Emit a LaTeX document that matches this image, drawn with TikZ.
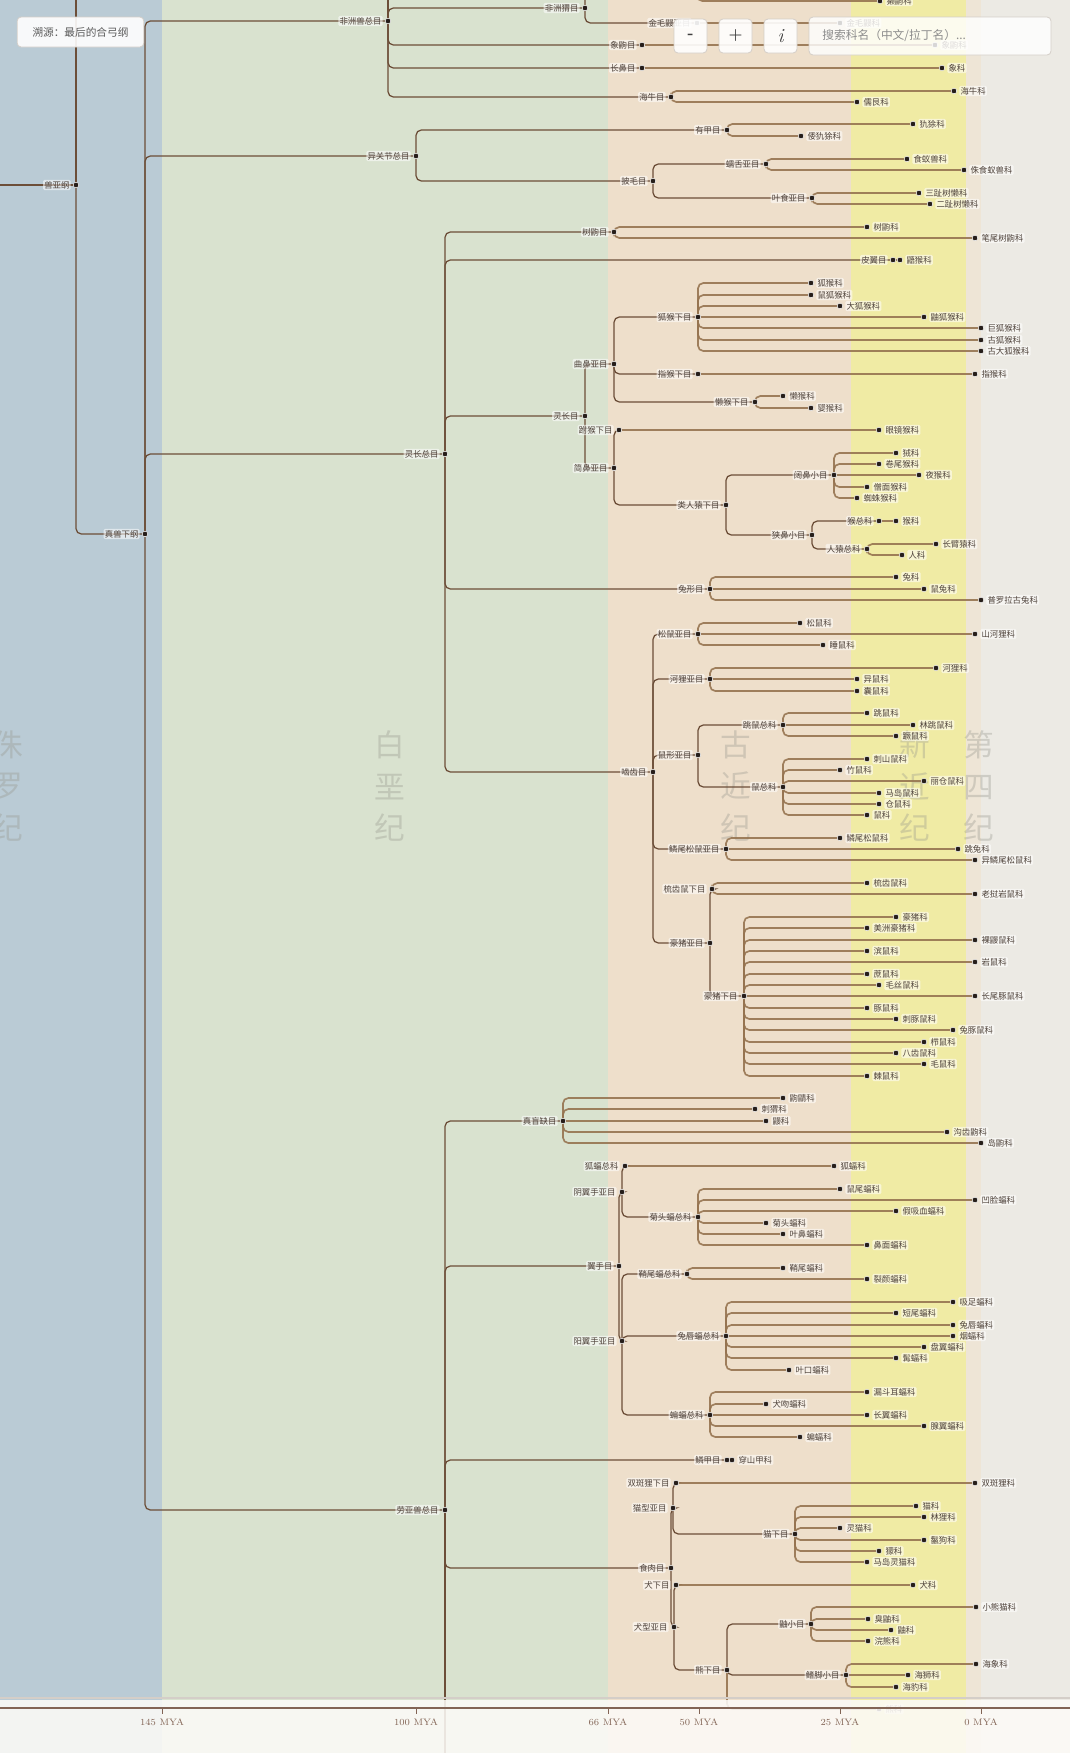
\documentclass[tikz,border=0pt]{standalone}
\usepackage{fontspec}
\usepackage{tikz}
\usepackage{xcolor}
\newfontfamily\cjk{Noto Sans CJK SC}
\pgfdeclarelayer{bands}
\pgfdeclarelayer{edges}
\pgfdeclarelayer{front}
\pgfsetlayers{bands,edges,main,front}

\definecolor{jurcol}{RGB}{186,203,213}
\definecolor{crecol}{RGB}{217,226,207}
\definecolor{palcol}{RGB}{238,223,203}
\definecolor{neocol}{RGB}{240,235,164}
\definecolor{quacol}{RGB}{238,229,214}
\definecolor{nowcol}{RGB}{236,234,228}
\definecolor{branchcol}{RGB}{108,78,56}
\definecolor{twigcol}{RGB}{150,116,80}
\definecolor{dotcol}{RGB}{38,30,26}
\definecolor{labcol}{RGB}{78,66,58}
\definecolor{eracol}{RGB}{150,150,140}
\definecolor{axiscol}{RGB}{130,100,85}
\definecolor{uiline}{RGB}{212,206,200}

\begin{document}
\begin{tikzpicture}[x=0.75pt,y=0.75pt,yscale=-1,xscale=1,
  label distance=1.5pt,
  dot/.style={circle,fill=dotcol,draw=white,line width=0.35pt,inner sep=0pt,minimum size=4.2pt},
  lab/.style={font=\cjk\fontsize{6.3}{7}\selectfont,text=labcol,fill=white,fill opacity=0.55,text opacity=1,inner sep=0.9pt,rounded corners=1pt},
  clade/.style={dot,label={[lab]left:#1}},
  leaf/.style={dot,label={[lab]right:#1}},
  branch/.style={draw=branchcol,line width=0.95pt,rounded corners=4pt},
  twig/.style={draw=twigcol,line width=1.25pt,rounded corners=4pt,draw opacity=0.9},
  era/.style={font=\cjk\fontsize{23}{31}\selectfont,text=eracol,text opacity=0.35,align=center},
  uibox/.style={draw=uiline,fill=white,fill opacity=0.9,text opacity=1,rounded corners=3pt,line width=0.6pt},
  ticklab/.style={font=\fontsize{7}{8}\selectfont,text=axiscol}
]
\useasboundingbox (0,0) rectangle (1070,1753);

%Shape: era bands
\begin{pgfonlayer}{bands}
\fill[jurcol] (0,0) rectangle (162,1753);
\fill[crecol] (162,0) rectangle (608,1753);
\fill[palcol] (608,0) rectangle (851,1753);
\fill[neocol] (851,0) rectangle (966,1753);
\fill[quacol] (966,0) rectangle (981,1753);
\fill[nowcol] (981,0) rectangle (1070,1753);
% Text Node
\node[era] (jura) at (8,786) {侏\\罗\\纪};
\node[era] (creta) at (390,786) {白\\垩\\纪};
\node[era] (paleo) at (736,786) {古\\近\\纪};
\node[era] (neo) at (915,786) {新\\近\\纪};
\node[era] (quat) at (979,786) {第\\四\\纪};
\end{pgfonlayer}

%Shape: off-screen ends
\coordinate (rootin) at (-10,185);
\coordinate (thertop) at (76,-30);
\coordinate (afrotop) at (388,-30);
\coordinate (tenrec) at (697,-25);
\coordinate (lauralow) at (445,1775);

% upper ranks
\node[clade=兽亚纲] (therian) at (76,185) {};
\node[clade=真兽下纲] (euther) at (145,534) {};
\node[clade=非洲兽总目] (afro) at (388,21) {};
\node[clade=异关节总目] (xenar) at (416,156) {};
\node[clade=灵长总目] (euarch) at (445,454) {};
\node[clade=劳亚兽总目] (laura) at (445,1510) {};

% Afrotheria
\node[clade=非洲猬目] (afsor) at (585,8) {};
\node[leaf=獭鼩科] (otter) at (880,1) {};
\node[clade=金毛鼹亚目] (chryso) at (697,23) {};
\node[leaf=金毛鼹科] (goldmole) at (840,23) {};
\node[clade=象鼩目] (macros) at (642,45) {};
\node[leaf=象鼩科] (sengi) at (935,45) {};
\node[clade=长鼻目] (probo) at (642,68) {};
\node[leaf=象科] (eleph) at (942,68) {};
\node[clade=海牛目] (siren) at (671,97) {};
\node[leaf=海牛科] (manatee) at (954,91) {};
\node[leaf=儒艮科] (dugong) at (857,102) {};

% Xenarthra
\node[clade=有甲目] (cingul) at (727,130) {};
\node[leaf=犰狳科] (armad) at (913,124) {};
\node[leaf=倭犰狳科] (fairyarm) at (801,136) {};
\node[clade=披毛目] (pilosa) at (653,181) {};
\node[clade=蠕舌亚目] (vermil) at (766,164) {};
\node[leaf=食蚁兽科] (anteat) at (907,159) {};
\node[leaf=侏食蚁兽科] (silkyant) at (964,170) {};
\node[clade=叶食亚目] (foliv) at (812,198) {};
\node[leaf=三趾树懒科] (threetoe) at (919,193) {};
\node[leaf=二趾树懒科] (twotoe) at (930,204) {};

% Euarchontoglires
\node[clade=树鼩目] (scand) at (614,232) {};
\node[leaf=树鼩科] (tupai) at (867,227) {};
\node[leaf=笔尾树鼩科] (pentail) at (975,238) {};
\node[clade=皮翼目] (dermo) at (893,260) {};
\node[leaf=鼯猴科] (colugo) at (900,260) {};
\node[clade=灵长目] (primat) at (585,416) {};
\node[clade=曲鼻亚目] (strep) at (614,364) {};
\node[clade=狐猴下目] (lemurif) at (698,317) {};
\node[leaf=狐猴科] (lemurid) at (811,283) {};
\node[leaf=鼠狐猴科] (cheirog) at (811,295) {};
\node[leaf=大狐猴科] (indriid) at (840,306) {};
\node[leaf=鼬狐猴科] (lepilem) at (924,317) {};
\node[leaf=巨狐猴科] (megalad) at (981,328) {};
\node[leaf=古狐猴科] (archlem) at (981,340) {};
\node[leaf=古大狐猴科] (palaeop) at (981,351) {};
\node[clade=指猴下目] (chiromy) at (698,374) {};
\node[leaf=指猴科] (ayeaye) at (975,374) {};
\node[clade=懒猴下目] (lorisif) at (755,402) {};
\node[leaf=懒猴科] (lorisid) at (783,396) {};
\node[leaf=婴猴科] (galagid) at (811,408) {};
\node[clade=简鼻亚目] (haplo) at (614,468) {};
\node[clade=跗猴下目] (tarsif) at (619,430) {};
\node[leaf=眼镜猴科] (tarsiid) at (879,430) {};
\node[clade=类人猿下目] (simii) at (726,505) {};
\node[clade=阔鼻小目] (platy) at (834,475) {};
\node[leaf=狨科] (callit) at (896,453) {};
\node[leaf=卷尾猴科] (cebid) at (879,464) {};
\node[leaf=夜猴科] (aotid) at (919,475) {};
\node[leaf=僧面猴科] (pitheci) at (867,487) {};
\node[leaf=蜘蛛猴科] (atelid) at (857,498) {};
\node[clade=狭鼻小目] (catar) at (812,535) {};
\node[clade=猴总科] (cercoid) at (879,521) {};
\node[leaf=猴科] (cercop) at (896,521) {};
\node[clade=人猿总科] (homoid) at (867,549) {};
\node[leaf=长臂猿科] (gibbon) at (936,544) {};
\node[leaf=人科] (hominid) at (902,555) {};
\node[clade=兔形目] (lagom) at (710,589) {};
\node[leaf=兔科] (leporid) at (896,577) {};
\node[leaf=鼠兔科] (pika) at (924,589) {};
\node[leaf=普罗拉古兔科] (prolag) at (981,600) {};

% Rodentia
\node[clade=啮齿目] (rodent) at (653,772) {};
\node[clade=松鼠亚目] (sciuro) at (698,634) {};
\node[leaf=松鼠科] (sciurid) at (800,623) {};
\node[leaf=山河狸科] (aplodon) at (975,634) {};
\node[leaf=睡鼠科] (glirid) at (823,645) {};
\node[clade=河狸亚目] (castori) at (710,679) {};
\node[leaf=河狸科] (castorid) at (936,668) {};
\node[leaf=异鼠科] (heteromy) at (857,679) {};
\node[leaf=囊鼠科] (geomy) at (857,691) {};
\node[clade=鼠形亚目] (myo) at (698,755) {};
\node[clade=跳鼠总科] (dipoid) at (783,725) {};
\node[leaf=跳鼠科] (dipodid) at (867,713) {};
\node[leaf=林跳鼠科] (zapodid) at (913,725) {};
\node[leaf=蹶鼠科] (sminth) at (896,736) {};
\node[clade=鼠总科] (muroid) at (783,787) {};
\node[leaf=刺山鼠科] (platac) at (867,759) {};
\node[leaf=竹鼠科] (spalac) at (840,770) {};
\node[leaf=丽仓鼠科] (calomys) at (924,781) {};
\node[leaf=马岛鼠科] (nesomy) at (879,793) {};
\node[leaf=仓鼠科] (cricet) at (879,804) {};
\node[leaf=鼠科] (murid) at (867,815) {};
\node[clade=鳞尾松鼠亚目] (anomal) at (726,849) {};
\node[leaf=鳞尾松鼠科] (anomfam) at (840,838) {};
\node[leaf=跳兔科] (pedetid) at (958,849) {};
\node[leaf=异鳞尾松鼠科] (zenker) at (975,860) {};
\node[clade=豪猪亚目] (hystri) at (710,943) {};
\node[clade=梳齿鼠下目] (ctenoinf) at (712,889) {};
\node[leaf=梳齿鼠科] (ctenodac) at (867,883) {};
\node[leaf=老挝岩鼠科] (diatomy) at (975,894) {};
\node[clade=豪猪下目] (hystinf) at (744,996) {};
\node[leaf=豪猪科] (hystfam) at (896,917) {};
\node[leaf=美洲豪猪科] (erethiz) at (867,928) {};
\node[leaf=裸鼹鼠科] (heteroc) at (975,940) {};
\node[leaf=滨鼠科] (bathyer) at (867,951) {};
\node[leaf=岩鼠科] (petromur) at (975,962) {};
\node[leaf=蔗鼠科] (thryono) at (867,974) {};
\node[leaf=毛丝鼠科] (chinchil) at (879,985) {};
\node[leaf=长尾豚鼠科] (dinomyid) at (975,996) {};
\node[leaf=豚鼠科] (caviid) at (867,1008) {};
\node[leaf=刺豚鼠科] (dasyproc) at (896,1019) {};
\node[leaf=兔豚鼠科] (cuniculid) at (953,1030) {};
\node[leaf=栉鼠科] (ctenomy) at (924,1042) {};
\node[leaf=八齿鼠科] (octodon) at (896,1053) {};
\node[leaf=毛鼠科] (abrocom) at (924,1064) {};
\node[leaf=棘鼠科] (echimy) at (867,1076) {};

% Laurasiatheria
\node[clade=真盲缺目] (eulipo) at (563,1121) {};
\node[leaf=鼩鼱科] (soricid) at (783,1098) {};
\node[leaf=刺猬科] (erinac) at (755,1109) {};
\node[leaf=鼹科] (talpid) at (766,1121) {};
\node[leaf=沟齿鼩科] (soleno) at (947,1132) {};
\node[leaf=岛鼩科] (nesoph) at (981,1143) {};
\node[clade=翼手目] (chiro) at (619,1266) {};
\node[clade=阴翼手亚目] (yinpt) at (622,1192) {};
\node[clade=狐蝠总科] (pteroid) at (625,1166) {};
\node[leaf=狐蝠科] (pterofam) at (834,1166) {};
\node[clade=菊头蝠总科] (rhinoid) at (698,1217) {};
\node[leaf=鼠尾蝠科] (rhinopom) at (840,1189) {};
\node[leaf=凹脸蝠科] (crase) at (975,1200) {};
\node[leaf=假吸血蝠科] (megader) at (896,1211) {};
\node[leaf=菊头蝠科] (rhinolo) at (766,1223) {};
\node[leaf=叶鼻蝠科] (hipposid) at (783,1234) {};
\node[leaf=鼻面蝠科] (rhinonyc) at (867,1245) {};
\node[clade=阳翼手亚目] (yango) at (622,1341) {};
\node[clade=鞘尾蝠总科] (emball) at (687,1274) {};
\node[leaf=鞘尾蝠科] (emballfam) at (783,1268) {};
\node[leaf=裂颜蝠科] (nycterid) at (867,1279) {};
\node[clade=兔唇蝠总科] (noctil) at (726,1336) {};
\node[leaf=吸足蝠科] (myzopod) at (953,1302) {};
\node[leaf=短尾蝠科] (mystacin) at (896,1313) {};
\node[leaf=兔唇蝠科] (noctfam) at (953,1325) {};
\node[leaf=烟蝠科] (furipter) at (953,1336) {};
\node[leaf=盘翼蝠科] (thyropt) at (924,1347) {};
\node[leaf=髯蝠科] (mormoop) at (896,1358) {};
\node[leaf=叶口蝠科] (phyllost) at (789,1370) {};
\node[clade=蝙蝠总科] (vesper) at (710,1415) {};
\node[leaf=漏斗耳蝠科] (natalid) at (867,1392) {};
\node[leaf=犬吻蝠科] (molossid) at (766,1404) {};
\node[leaf=长翼蝠科] (miniopt) at (867,1415) {};
\node[leaf=腺翼蝠科] (cistugid) at (924,1426) {};
\node[leaf=蝙蝠科] (vespfam) at (800,1437) {};
\node[clade=鳞甲目] (pholid) at (727,1460) {};
\node[leaf=穿山甲科] (pangolin) at (732,1460) {};

% Carnivora
\node[clade=食肉目] (carniv) at (671,1568) {};
\node[clade=猫型亚目] (felif) at (673,1508) {};
\node[clade=双斑狸下目] (nandinf) at (676,1483) {};
\node[leaf=双斑狸科] (nandin) at (975,1483) {};
\node[clade=猫下目] (feloid) at (795,1534) {};
\node[leaf=猫科] (felid) at (916,1506) {};
\node[leaf=林狸科] (prionod) at (924,1517) {};
\node[leaf=灵猫科] (viverrid) at (840,1528) {};
\node[leaf=鬣狗科] (hyaenid) at (924,1540) {};
\node[leaf=獴科] (herpest) at (879,1551) {};
\node[leaf=马岛灵猫科] (euplerid) at (867,1562) {};
\node[clade=犬型亚目] (canif) at (674,1627) {};
\node[clade=犬下目] (cynoid) at (676,1585) {};
\node[leaf=犬科] (canid) at (913,1585) {};
\node[clade=熊下目] (arctoid) at (727,1670) {};
\node[clade=鼬小目] (mustinf) at (811,1624) {};
\node[leaf=小熊猫科] (ailurid) at (976,1607) {};
\node[leaf=臭鼬科] (mephit) at (868,1619) {};
\node[leaf=鼬科] (mustelid) at (891,1630) {};
\node[leaf=浣熊科] (procyon) at (868,1641) {};
\node[clade=鳍脚小目] (pinnip) at (846,1675) {};
\node[leaf=海象科] (walrus) at (976,1664) {};
\node[leaf=海狮科] (sealion) at (908,1675) {};
\node[leaf=海豹科] (phocid) at (896,1687) {};
\node[leaf=熊科] (ursid) at (879,1709) {};

%Straight Lines: tree branches
\begin{pgfonlayer}{edges}
\draw[branch] (rootin) -- (therian.center);
\draw[branch] (therian.center) -- (thertop);
\draw[branch] (therian.center) |- (euther.center);
\foreach \kid in {afro,xenar,euarch,laura} \draw[branch] (euther.center) |- (\kid.center);
\draw[branch] (laura.center) -- (lauralow);
\draw[branch] (afro.center) -- (afrotop);
\foreach \kid in {afsor,macros,probo,siren} \draw[branch] (afro.center) |- (\kid.center);
\draw[branch] (afsor.center) |- (tenrec);
\draw[branch] (afsor.center) |- (chryso.center);
\draw[twig] (tenrec) |- (otter.center);
\draw[twig] (chryso.center) -- (goldmole.center);
\draw[twig] (macros.center) -- (sengi.center);
\draw[twig] (probo.center) -- (eleph.center);
\foreach \kid in {manatee,dugong} \draw[twig] (siren.center) |- (\kid.center);
\foreach \kid in {cingul,pilosa} \draw[branch] (xenar.center) |- (\kid.center);
\foreach \kid in {armad,fairyarm} \draw[twig] (cingul.center) |- (\kid.center);
\foreach \kid in {vermil,foliv} \draw[branch] (pilosa.center) |- (\kid.center);
\foreach \kid in {anteat,silkyant} \draw[twig] (vermil.center) |- (\kid.center);
\foreach \kid in {threetoe,twotoe} \draw[twig] (foliv.center) |- (\kid.center);
\foreach \kid in {scand,dermo,primat,lagom,rodent} \draw[branch] (euarch.center) |- (\kid.center);
\foreach \kid in {tupai,pentail} \draw[twig] (scand.center) |- (\kid.center);
\draw[twig] (dermo.center) -- (colugo.center);
\foreach \kid in {strep,haplo} \draw[branch] (primat.center) |- (\kid.center);
\foreach \kid in {lemurif,chiromy,lorisif} \draw[branch] (strep.center) |- (\kid.center);
\foreach \kid in {lemurid,cheirog,indriid,megalad,archlem,palaeop} \draw[twig] (lemurif.center) |- (\kid.center);
\draw[twig] (lemurif.center) -- (lepilem.center);
\draw[twig] (chiromy.center) -- (ayeaye.center);
\foreach \kid in {lorisid,galagid} \draw[twig] (lorisif.center) |- (\kid.center);
\foreach \kid in {tarsif,simii} \draw[branch] (haplo.center) |- (\kid.center);
\draw[twig] (tarsif.center) -- (tarsiid.center);
\foreach \kid in {platy,catar} \draw[branch] (simii.center) |- (\kid.center);
\foreach \kid in {callit,cebid,pitheci,atelid} \draw[twig] (platy.center) |- (\kid.center);
\draw[twig] (platy.center) -- (aotid.center);
\foreach \kid in {cercoid,homoid} \draw[branch] (catar.center) |- (\kid.center);
\draw[twig] (cercoid.center) -- (cercop.center);
\foreach \kid in {gibbon,hominid} \draw[twig] (homoid.center) |- (\kid.center);
\foreach \kid in {leporid,prolag} \draw[twig] (lagom.center) |- (\kid.center);
\draw[twig] (lagom.center) -- (pika.center);
\foreach \kid in {sciuro,castori,myo,anomal,hystri} \draw[branch] (rodent.center) |- (\kid.center);
\foreach \kid in {sciurid,glirid} \draw[twig] (sciuro.center) |- (\kid.center);
\draw[twig] (sciuro.center) -- (aplodon.center);
\foreach \kid in {castorid,geomy} \draw[twig] (castori.center) |- (\kid.center);
\draw[twig] (castori.center) -- (heteromy.center);
\foreach \kid in {dipoid,muroid} \draw[branch] (myo.center) |- (\kid.center);
\foreach \kid in {dipodid,sminth} \draw[twig] (dipoid.center) |- (\kid.center);
\draw[twig] (dipoid.center) -- (zapodid.center);
\foreach \kid in {platac,spalac,calomys,nesomy,cricet,murid} \draw[twig] (muroid.center) |- (\kid.center);
\foreach \kid in {anomfam,zenker} \draw[twig] (anomal.center) |- (\kid.center);
\draw[twig] (anomal.center) -- (pedetid.center);
\foreach \kid in {ctenoinf,hystinf} \draw[branch] (hystri.center) |- (\kid.center);
\foreach \kid in {ctenodac,diatomy} \draw[twig] (ctenoinf.center) |- (\kid.center);
\foreach \kid in {hystfam,erethiz,heteroc,bathyer,petromur,thryono,chinchil,caviid,dasyproc,cuniculid,ctenomy,octodon,abrocom,echimy} \draw[twig] (hystinf.center) |- (\kid.center);
\draw[twig] (hystinf.center) -- (dinomyid.center);
\foreach \kid in {eulipo,chiro,pholid,carniv} \draw[branch] (laura.center) |- (\kid.center);
\foreach \kid in {soricid,erinac,soleno,nesoph} \draw[twig] (eulipo.center) |- (\kid.center);
\draw[twig] (eulipo.center) -- (talpid.center);
\foreach \kid in {yinpt,yango} \draw[branch] (chiro.center) |- (\kid.center);
\foreach \kid in {pteroid,rhinoid} \draw[branch] (yinpt.center) |- (\kid.center);
\draw[twig] (pteroid.center) -- (pterofam.center);
\foreach \kid in {rhinopom,crase,megader,rhinolo,hipposid,rhinonyc} \draw[twig] (rhinoid.center) |- (\kid.center);
\foreach \kid in {emball,noctil,vesper} \draw[branch] (yango.center) |- (\kid.center);
\foreach \kid in {emballfam,nycterid} \draw[twig] (emball.center) |- (\kid.center);
\foreach \kid in {myzopod,mystacin,noctfam,thyropt,mormoop,phyllost} \draw[twig] (noctil.center) |- (\kid.center);
\draw[twig] (noctil.center) -- (furipter.center);
\foreach \kid in {natalid,molossid,cistugid,vespfam} \draw[twig] (vesper.center) |- (\kid.center);
\draw[twig] (vesper.center) -- (miniopt.center);
\draw[twig] (pholid.center) -- (pangolin.center);
\foreach \kid in {felif,canif} \draw[branch] (carniv.center) |- (\kid.center);
\foreach \kid in {nandinf,feloid} \draw[branch] (felif.center) |- (\kid.center);
\draw[twig] (nandinf.center) -- (nandin.center);
\foreach \kid in {felid,prionod,viverrid,hyaenid,herpest,euplerid} \draw[twig] (feloid.center) |- (\kid.center);
\foreach \kid in {cynoid,arctoid} \draw[branch] (canif.center) |- (\kid.center);
\draw[twig] (cynoid.center) -- (canid.center);
\foreach \kid in {mustinf,pinnip} \draw[branch] (arctoid.center) |- (\kid.center);
\draw[twig] (arctoid.center) |- (ursid.center);
\foreach \kid in {ailurid,mephit,mustelid,procyon} \draw[twig] (mustinf.center) |- (\kid.center);
\foreach \kid in {walrus,phocid} \draw[twig] (pinnip.center) |- (\kid.center);
\draw[twig] (pinnip.center) -- (sealion.center);
\end{pgfonlayer}

%Shape: time axis and controls
\begin{pgfonlayer}{front}
\fill[white!96!brown,fill opacity=0.88] (0,1700) rectangle (1070,1753);
\draw[uiline,line width=0.8pt] (0,1698) -- (1070,1698);
\draw[axiscol,line width=0.9pt] (0,1708) -- (1070,1708);
\foreach \mya/\xx in {145/162,100/416,66/608,50/699,25/840,0/981} {
  \draw[axiscol,line width=0.6pt] (\xx,1708) -- (\xx,1714);
  \node[ticklab] (tick\mya) at (\xx,1722) {\mya\ MYA};
}
% Text Node
\node[uibox,minimum width=95pt,minimum height=22.5pt,font=\cjk\fontsize{8}{9}\selectfont,text=black!65] (trace) at (80.5,32) {溯源：最后的合弓纲};
\node[uibox,minimum width=24.75pt,minimum height=25.5pt,font=\bfseries\fontsize{12}{12}\selectfont,text=black!75] (zoomout) at (690.5,36) {-};
\node[uibox,minimum width=24.75pt,minimum height=25.5pt,font=\bfseries\fontsize{12}{12}\selectfont,text=black!75] (zoomin) at (735.5,36) {+};
\node[uibox,minimum width=24.75pt,minimum height=25.5pt,font=\rmfamily\itshape\fontsize{15}{15}\selectfont,text=black!75] (info) at (780.5,36) {i};
\node[uibox,fill opacity=0.82,text width=161.5pt,inner xsep=10pt,minimum height=28.5pt,align=left,font=\cjk\fontsize{8.8}{10}\selectfont,text=black!45] (search) at (930,36) {搜索科名（中文/拉丁名）...};
\end{pgfonlayer}
\end{tikzpicture}
\end{document}
